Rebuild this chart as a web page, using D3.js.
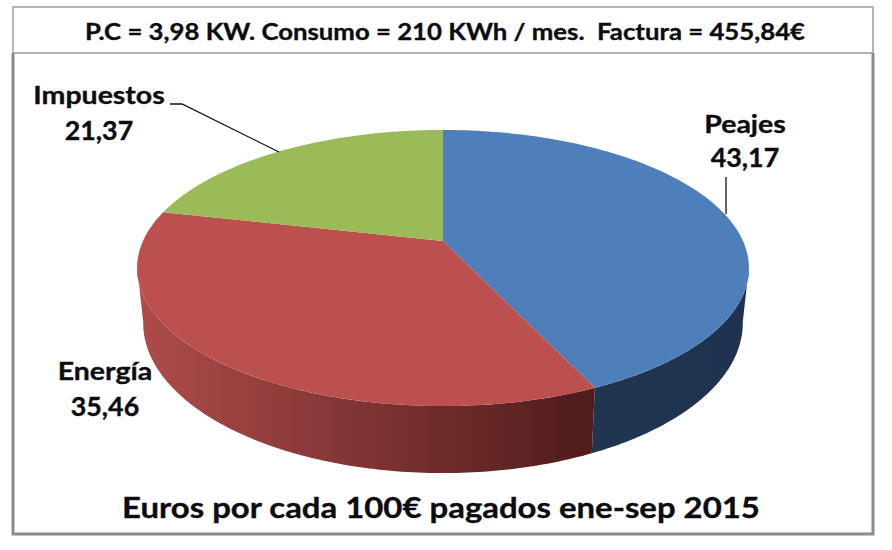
<!DOCTYPE html>
<html><head><meta charset="utf-8">
<script src="https://cdn.jsdelivr.net/npm/d3@7"></script>
<style>html,body{margin:0;padding:0;background:#fff}svg{display:block}text{font-family:Lato,"Open Sans",sans-serif;font-weight:700;fill:#0c0c12;stroke:#0c0c12;stroke-width:.35;white-space:pre}</style>
</head><body><svg id="c" width="892" height="550"></svg>
<script>
const categories=["Peajes","Energía","Impuestos"];
const values=[43.17,35.46,21.37];
const valueLabels=["43,17","35,46","21,37"];
const topColors=["#4f7fbb","#bc504e","#9bbb59"];
const sideStart=["#20354f","#ae4c4a","#7f9a48"];
const sideEnd=["#1f3350","#4f1b1b","#7f9a48"];
const headerText="P.C = 3,98 KW. Consumo = 210 KWh / mes.  Factura = 455,84€";
const footerText="Euros por cada 100€ pagados ene-sep 2015";

const svg=d3.select("#c");
svg.append("rect").attr("x",13).attr("y",7).attr("width",860).attr("height",46).attr("fill","#fff").attr("stroke","#b4b4b4").attr("stroke-width",2);
svg.append("path").attr("d","M13 53V534H873V53").attr("fill","none").attr("stroke","#8a8a8a").attr("stroke-width",3);

// projective camera for the tilted pie: unit disc -> screen
const cx=443, ax=300, ay=85.6, by=241, persp=-0.1957;
const sx=0.98, sy=1.087, lowCy=323, topCy=268;
const topPt=(a)=>{const u=Math.sin(a),v=-Math.cos(a),d=1+persp*v;return [cx+ax*u/d,(ay*v+by)/d];};
const lowPt=(a)=>{const p=topPt(a);return [cx+sx*(p[0]-cx),lowCy+sy*(p[1]-topCy)];};
const arcs=d3.pie().sort(null).value(d=>d)(values);
const sample=(s,e)=>d3.range(0,121).map(i=>s+(e-s)*i/120);
const line=d3.line();
const defs=svg.append("defs");

// side walls: only the front of the rim is visible
const frontA=Math.PI/2+0.19, frontB=3*Math.PI/2-0.19;
arcs.forEach((d,i)=>{
  const s=Math.max(d.startAngle,frontA), e=Math.min(d.endAngle,frontB);
  if(e<=s) return;
  const as=sample(s,e);
  const pts=as.map(topPt).concat(as.slice().reverse().map(lowPt));
  const xr=d3.extent(pts,p=>p[0]);
  const g=defs.append("linearGradient").attr("id","side"+i).attr("gradientUnits","userSpaceOnUse")
    .attr("x1",xr[0]).attr("x2",xr[1]).attr("y1",0).attr("y2",0);
  g.append("stop").attr("offset",0).attr("stop-color",sideStart[i]);
  g.append("stop").attr("offset",1).attr("stop-color",sideEnd[i]);
  svg.append("path").attr("d",line(pts)+"Z").attr("fill","url(#side"+i+")");
});
// top faces
arcs.forEach((d,i)=>{
  const pts=[[cx,by]].concat(sample(d.startAngle,d.endAngle).map(topPt));
  svg.append("path").attr("d",line(pts)+"Z").attr("fill",topColors[i]);
});
// leader lines
svg.append("path").attr("d","M170 104H182L279 152").attr("fill","none").attr("stroke","#111").attr("stroke-width",1.3);
svg.append("path").attr("d","M726 177V214").attr("fill","none").attr("stroke","#111").attr("stroke-width",1.3);

const stretched=(str,x,y,size,k)=>svg.append("text")
  .attr("transform",`translate(${x},${y}) scale(${k},1)`)
  .attr("text-anchor","middle").attr("font-size",size).text(str);
const labelPos=[[745,133,167],[105,380,416],[99,104,140]];
categories.forEach((c,i)=>{
  stretched(c,labelPos[i][0],labelPos[i][1],25,1.14);
  stretched(valueLabels[i],labelPos[i][0],labelPos[i][2],26,1.03);
});
stretched(headerText,445,40,23,1.12);
stretched(footerText,441,518,29,1.135);
</script></body></html>
